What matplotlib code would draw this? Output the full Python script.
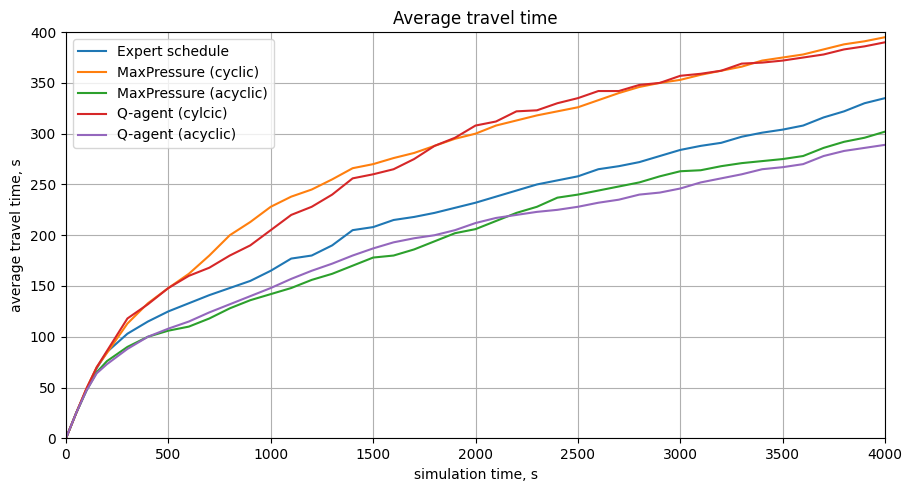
import matplotlib
matplotlib.use('Agg')
import matplotlib.pyplot as plt

t = [0, 50, 100, 150, 200, 300, 400, 500, 600, 700, 800, 900, 1000, 1100, 1200, 1300, 1400,
     1500, 1600, 1700, 1800, 1900, 2000, 2100, 2200, 2300, 2400, 2500, 2600, 2700,
     2800, 2900, 3000, 3100, 3200, 3300, 3400, 3500, 3600, 3700, 3800, 3900, 4000]

expert = [0, 25, 48, 69, 85, 103, 115, 125, 133, 141, 148, 155, 165, 177, 180, 190, 205,
          208, 215, 218, 222, 227, 232, 238, 244, 250, 254, 258, 265, 268, 272, 278,
          284, 288, 291, 297, 301, 304, 308, 316, 322, 330, 335]
mp_cyclic = [0, 25, 49, 70, 84, 113, 133, 148, 162, 180, 200, 213, 228, 238, 245, 255, 266,
             270, 276, 281, 288, 295, 300, 308, 313, 318, 322, 326, 333, 340, 346,
             350, 353, 358, 362, 366, 372, 375, 378, 383, 388, 391, 395]
mp_acyclic = [0, 25, 47, 65, 76, 90, 100, 106, 110, 118, 128, 136, 142, 148, 156, 162, 170,
              178, 180, 186, 194, 202, 206, 214, 222, 228, 237, 240, 244, 248, 252,
              258, 263, 264, 268, 271, 273, 275, 278, 286, 292, 296, 302]
q_cyclic = [0, 25, 49, 70, 86, 118, 132, 148, 160, 168, 180, 190, 205, 220, 228, 240, 256,
            260, 265, 275, 288, 296, 308, 312, 322, 323, 330, 335, 342, 342, 348,
            350, 357, 359, 362, 369, 370, 372, 375, 378, 383, 386, 390]
q_acyclic = [0, 25, 47, 64, 73, 88, 100, 108, 115, 124, 132, 140, 148, 157, 165, 172, 180,
             187, 193, 197, 200, 205, 212, 217, 220, 223, 225, 228, 232, 235, 240,
             242, 246, 252, 256, 260, 265, 267, 270, 278, 283, 286, 289]

fig, ax = plt.subplots(figsize=(9.04, 4.87), dpi=100)
fig.subplots_adjust(left=0.073, right=0.979, top=0.934, bottom=0.1)

ax.plot(t, expert, label='Expert schedule')
ax.plot(t, mp_cyclic, label='MaxPressure (cyclic)')
ax.plot(t, mp_acyclic, label='MaxPressure (acyclic)')
ax.plot(t, q_cyclic, label='Q-agent (cylcic)')
ax.plot(t, q_acyclic, label='Q-agent (acyclic)')

ax.set_xlim(0, 4000)
ax.set_ylim(0, 400)
ax.grid(True)
ax.set_title('Average travel time')
ax.set_xlabel('simulation time, s')
ax.set_ylabel('average travel time, s')
ax.legend(loc='upper left')

fig.savefig('out.png', dpi=100)
